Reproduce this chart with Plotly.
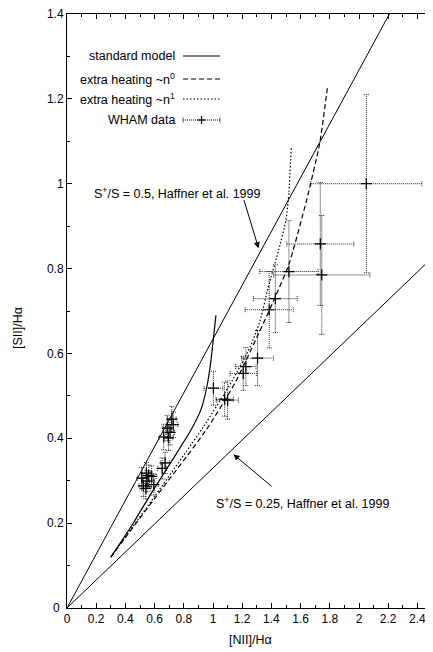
import plotly.graph_objects as go

# ---------------- data ----------------
# standard model (solid)
std_x = [0.306, 0.45, 0.58, 0.72, 0.85, 0.92, 0.96, 0.985, 1.003, 1.02]
std_y = [0.123, 0.198, 0.272, 0.348, 0.420, 0.470, 0.525, 0.580, 0.636, 0.690]

# extra heating ~n^0 (dashed)
n0_x = [0.30, 0.60, 0.95, 1.15, 1.31, 1.42, 1.52, 1.64, 1.73, 1.785]
n0_y = [0.12, 0.258, 0.418, 0.530, 0.645, 0.728, 0.810, 0.960, 1.094, 1.23]

# extra heating ~n^1 (dotted)
n1_x = [0.30, 0.60, 0.93, 1.13, 1.255, 1.324, 1.38, 1.45, 1.50, 1.52, 1.536]
n1_y = [0.12, 0.263, 0.425, 0.535, 0.616, 0.679, 0.758, 0.844, 0.915, 0.98, 1.084]

# WHAM data with symmetric errors
wham_x = [2.05, 1.735, 1.745, 1.52, 1.427, 1.385, 1.305, 1.225, 1.207, 1.003, 1.10, 1.08,
          0.718, 0.729, 0.686, 0.706, 0.662, 0.695, 0.672, 0.652,
          0.544, 0.560, 0.580, 0.512, 0.548, 0.595, 0.523, 0.540]
wham_y = [1.00, 0.858, 0.785, 0.793, 0.729, 0.703, 0.589, 0.569, 0.553, 0.518, 0.490, 0.492,
          0.445, 0.432, 0.424, 0.414, 0.403, 0.401, 0.342, 0.329,
          0.318, 0.312, 0.310, 0.306, 0.299, 0.291, 0.288, 0.282]
wham_dx = [0.38, 0.23, 0.33, 0.20, 0.15, 0.165, 0.11, 0.07, 0.09, 0.065, 0.075, 0.06,
           0.03, 0.03, 0.03, 0.03, 0.03, 0.03, 0.03, 0.03,
           0.03, 0.03, 0.03, 0.03, 0.03, 0.03, 0.03, 0.03]
wham_dy = [0.21, 0.145, 0.14, 0.12, 0.08, 0.09, 0.065, 0.045, 0.04, 0.04, 0.045, 0.04,
           0.03, 0.03, 0.03, 0.03, 0.03, 0.03, 0.025, 0.025,
           0.025, 0.025, 0.025, 0.025, 0.025, 0.025, 0.025, 0.025]

# S+/S reference lines (slopes) and x extent
ref_slopes = [0.634, 0.33]
ref_xext = [0.0, 2.5]

# tick values / labels
x_ticks = [0, 0.2, 0.4, 0.6, 0.8, 1.0, 1.2, 1.4, 1.6, 1.8, 2.0, 2.2, 2.4]
x_labels = ["0", "0.2", "0.4", "0.6", "0.8", "1", "1.2", "1.4", "1.6", "1.8", "2", "2.2", "2.4"]
y_ticks = [0, 0.2, 0.4, 0.6, 0.8, 1.0, 1.2, 1.4]
y_labels = ["0", "0.2", "0.4", "0.6", "0.8", "1", "1.2", "1.4"]

# ---------------- layout geometry ----------------
OFF = 8                      # page body margin
W, H = 433 - OFF, 652 - OFF
L, T = 67 - OFF, 14 - OFF
PW, PH = 365, 594
R, B = W - L - PW, H - T - PH
XR = [0, 2.5]
YR = [0, 1.4]


def xp(px):
    return (px - OFF - L) / PW


def yp(py):
    return (T + PH - (py - OFF)) / PH


FONT = "Liberation Sans, Arial, Helvetica, sans-serif"

fig = go.Figure()

# reference lines
for s in ref_slopes:
    fig.add_trace(go.Scatter(x=ref_xext, y=[s * v for v in ref_xext], mode="lines",
                             line=dict(color="black", width=1), showlegend=False,
                             hoverinfo="skip"))

# model curves
fig.add_trace(go.Scatter(x=std_x, y=std_y, mode="lines",
                         line=dict(color="black", width=1.2, shape="spline", smoothing=0.6),
                         showlegend=False))
fig.add_trace(go.Scatter(x=n0_x, y=n0_y, mode="lines",
                         line=dict(color="black", width=1.2, dash="5px,3px", shape="spline", smoothing=0.6),
                         showlegend=False))
fig.add_trace(go.Scatter(x=n1_x, y=n1_y, mode="lines",
                         line=dict(color="black", width=1.2, dash="1.5px,2px", shape="spline", smoothing=0.6),
                         showlegend=False))

# error bars as dotted segments
cx = 2.5 * (XR[1] - XR[0]) / PW
cy = 2.5 * (YR[1] - YR[0]) / PH
ex, ey = [], []
for x, y, dx, dy in zip(wham_x, wham_y, wham_dx, wham_dy):
    ex += [x - dx, x + dx, None, x, x, None]
    ey += [y, y, None, y - dy, y + dy, None]
    ex += [x - dx, x - dx, None, x + dx, x + dx, None]
    ey += [y - cy, y + cy, None, y - cy, y + cy, None]
    ex += [x - cx, x + cx, None, x - cx, x + cx, None]
    ey += [y - dy, y - dy, None, y + dy, y + dy, None]
fig.add_trace(go.Scatter(x=ex, y=ey, mode="lines",
                         line=dict(color="rgba(0,0,0,0.85)", width=1, dash="1px,1px"),
                         showlegend=False, hoverinfo="skip"))
fig.add_trace(go.Scatter(x=wham_x, y=wham_y, mode="markers",
                         marker=dict(symbol="cross-thin", size=8,
                                     line=dict(color="black", width=1.2)),
                         showlegend=False))

# ---------------- legend (gnuplot style) ----------------
leg_rows = [56, 79, 99, 120]
leg_text = ["standard model", "extra heating ~n<sup>0</sup>",
            "extra heating ~n<sup>1</sup>", "WHAM data"]
leg_dash = ["solid", "5px,3px", "1.5px,2px", "1px,1px"]
x0, x1 = xp(183), xp(220)
shapes = []
annotations = []
for py, txt, d in zip(leg_rows, leg_text, leg_dash):
    annotations.append(dict(x=xp(177), y=yp(py), xref="paper", yref="paper",
                            text=txt, showarrow=False, xanchor="right", yanchor="middle",
                            font=dict(family=FONT, size=12.5, color="black")))
    shapes.append(dict(type="line", xref="paper", yref="paper", x0=x0, x1=x1,
                       y0=yp(py), y1=yp(py),
                       line=dict(color="black", width=1.2 if d != "1px,1px" else 1, dash=d)))
# WHAM sample: caps and cross
pyw = leg_rows[3]
for xe in (183, 220):
    shapes.append(dict(type="line", xref="paper", yref="paper", x0=xp(xe), x1=xp(xe),
                       y0=yp(pyw - 2.5), y1=yp(pyw + 2.5),
                       line=dict(color="black", width=1, dash="1px,1px")))
xc = 201.5
shapes.append(dict(type="line", xref="paper", yref="paper", x0=xp(xc - 4), x1=xp(xc + 4),
                   y0=yp(pyw), y1=yp(pyw), line=dict(color="black", width=1.2)))
shapes.append(dict(type="line", xref="paper", yref="paper", x0=xp(xc), x1=xp(xc),
                   y0=yp(pyw - 4), y1=yp(pyw + 4), line=dict(color="black", width=1.2)))

# ---------------- labels with arrows ----------------
annotations.append(dict(x=0.758, y=0.979, xref="x", yref="y",
                        text="S<sup>+</sup>/S = 0.5, Haffner et al. 1999", showarrow=False,
                        font=dict(family=FONT, size=12.5, color="black")))
annotations.append(dict(x=1.312, y=0.848, ax=1.209, ay=0.965, xref="x", yref="y",
                        axref="x", ayref="y", text="", showarrow=True,
                        arrowhead=2, arrowsize=1.2, arrowwidth=1, arrowcolor="black"))
annotations.append(dict(x=1.612, y=0.248, xref="x", yref="y",
                        text="S<sup>+</sup>/S = 0.25, Haffner et al. 1999", showarrow=False,
                        font=dict(family=FONT, size=12.5, color="black")))
annotations.append(dict(x=1.14, y=0.362, ax=1.411, ay=0.284, xref="x", yref="y",
                        axref="x", ayref="y", text="", showarrow=True,
                        arrowhead=2, arrowsize=1.2, arrowwidth=1, arrowcolor="black"))

# y-axis "0" label (plotly hides it at the axis corner)
annotations.append(dict(x=xp(62), y=y_ticks[0], xref="paper", yref="y", text=y_labels[0],
                        showarrow=False, xanchor="right", yanchor="middle",
                        font=dict(family=FONT, size=12, color="black")))

# axis titles
annotations.append(dict(x=xp(18), y=yp(328), xref="paper", yref="paper", text="[SII]/Hα",
                        textangle=-90, showarrow=False, xanchor="center", yanchor="middle",
                        font=dict(family=FONT, size=12.5, color="black")))
annotations.append(dict(x=xp(250), y=yp(640), xref="paper", yref="paper", text="[NII]/Hα",
                        showarrow=False, xanchor="center", yanchor="middle",
                        font=dict(family=FONT, size=12.5, color="black")))

axis_common = dict(showline=True, linecolor="black", linewidth=1, mirror="allticks",
                   ticks="inside", ticklen=5, tickwidth=1, tickcolor="black",
                   showgrid=False, zeroline=False, ticklabeloverflow="allow",
                   tickfont=dict(family=FONT, size=12, color="black"),
                   minor=dict(ticks="inside", ticklen=3, tickwidth=1, tickcolor="black",
                              tickmode="linear", tick0=0, dtick=0.1, showgrid=False))

fig.update_layout(
    width=W, height=H,
    margin=dict(l=L, r=R, t=T, b=B, autoexpand=False),
    paper_bgcolor="white", plot_bgcolor="white",
    xaxis=dict(range=XR, tickmode="array", tickvals=x_ticks, ticktext=x_labels, **axis_common),
    yaxis=dict(range=YR, tickmode="array", tickvals=y_ticks[1:], ticktext=y_labels[1:], **axis_common),
    shapes=shapes, annotations=annotations,
    showlegend=False,
    font=dict(family=FONT, size=12, color="black"),
)
# keep the y=0 major tick mark itself (label drawn as annotation above)
fig.update_yaxes(tickvals=y_ticks, ticktext=[""] + y_labels[1:])

fig.write_html("out.html")
